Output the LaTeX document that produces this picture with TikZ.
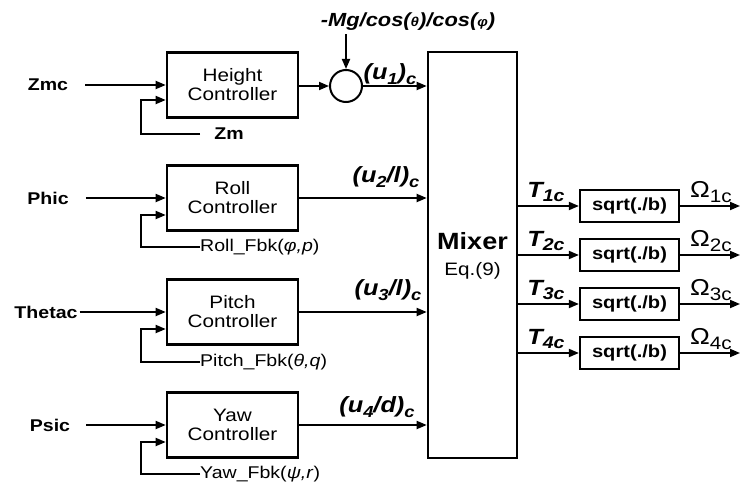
\documentclass[tikz,border=0pt]{standalone}
\usepackage{fontspec}
\setmainfont{Liberation Sans}[FakeStretch=1.15]
\usetikzlibrary{arrows.meta,calc}
\newcommand\lowsub[2][16]{\raisebox{-0.22em}{\fontsize{#1}{#1}\selectfont #2}}
\begin{document}
\begin{tikzpicture}[x=1pt,y=-1pt,
  ctrl/.style={draw,line width=2.6pt,minimum width=131pt,minimum height=65pt,align=center,font=\fontsize{18}{19}\selectfont,inner sep=0pt},
  sq/.style={draw,line width=2.2pt,minimum width=99pt,minimum height=32pt,inner sep=0pt,font=\fontsize{17.5}{19}\selectfont\bfseries},
  arr/.style={line width=1.8pt,-{Triangle[length=10pt,width=8pt]}},
  inp/.style={font=\fontsize{17}{19}\selectfont\bfseries,inner sep=0pt},
  fbl/.style={font=\fontsize{17}{19}\selectfont,anchor=west,inner sep=0pt},
  ulab/.style={font=\fontsize{22}{24}\selectfont\bfseries\itshape,inner sep=0pt},
  tlab/.style={font=\fontsize{22}{24}\selectfont\bfseries\itshape,inner sep=0pt},
  olab/.style={font=\fontsize{23}{24}\selectfont,inner sep=0pt},
]
\useasboundingbox[fill=white] (0,0) rectangle (741,487);
% controllers
\node[ctrl] (hc) at (232.5,85) {Height\\Controller};
\node[ctrl] (rc) at (232.5,198) {Roll\\Controller};
\node[ctrl] (pc) at (232.5,312) {Pitch\\Controller};
\node[ctrl] (yc) at (232.5,425) {Yaw\\Controller};
% mixer
\node[draw,line width=2.6pt,minimum width=89pt,minimum height=406pt,inner sep=0pt] (mix) at (472.5,255) {};
\node[font=\fontsize{23.5}{27}\selectfont\bfseries] (mixt) at (472.5,241) {Mixer};
\node[font=\fontsize{18}{20}\selectfont] (eq) at (472.5,271) {Eq.(9)};
% summation
\node[draw,circle,line width=2pt,minimum size=32pt,inner sep=0pt] (sum) at (346,86) {};
\node[font=\fontsize{19}{19}\selectfont\bfseries\itshape,inner sep=0pt] (mg) at (408,22) {-Mg/cos({\fontsize{13}{13}\selectfont θ})/cos({\fontsize{13}{13}\selectfont φ})};
\draw[arr] (mg.south -| sum) ++(0,-3pt) -- (sum.north);
% inputs
\node[inp] (zmc) at (48,85) {Zmc};
\node[inp] (phic) at (48,198) {Phic};
\node[inp] (thetac) at (46,312) {Thetac};
\node[inp] (psic) at (50,425) {Psic};
\draw[arr] ([xshift=17pt]zmc.east) -- (hc.west);
\draw[arr] ([xshift=17pt]phic.east) -- (rc.west);
\draw[arr] ([xshift=2pt]thetac.east) -- (pc.west);
\draw[arr] ([xshift=16pt]psic.east) -- (yc.west);
% feedbacks
\node[font=\fontsize{17}{19}\selectfont\bfseries,inner sep=0pt] (zm) at (229,134) {Zm};
\node[fbl] (rf) at (200,247) {Roll\_Fbk(\textit{φ,p})};
\node[fbl] (pf) at (200,362) {Pitch\_Fbk(\textit{θ,q})};
\node[fbl] (yf) at (200,474) {Yaw\_Fbk(\textit{ψ,r})};
\draw[arr] ([xshift=-14pt]zm.west) -- (141,134) |- ([yshift=-15pt]hc.west);
\draw[arr] (rf.west) -- (141,247) |- ([yshift=-17pt]rc.west);
\draw[arr] (pf.west) -- (141,362) |- ([yshift=-17pt]pc.west);
\draw[arr] (yf.west) -- (141,474) |- ([yshift=-17pt]yc.west);
% controller outputs
\draw[arr] (hc.east |- sum) -- (sum.west);
\draw[arr] (sum.east) -- (sum -| mix.west);
\draw[arr] (rc.east) -- (rc -| mix.west);
\draw[arr] (pc.east) -- (pc -| mix.west);
\draw[arr] (yc.east) -- (yc -| mix.west);
\node[ulab] (u1) at (390,74) {(\textit{u}\lowsub{1})\lowsub{c}};
\node[ulab] (u2) at (386,177) {(\textit{u}\lowsub{2}/l)\lowsub{c}};
\node[ulab] (u3) at (388,290) {(\textit{u}\lowsub{3}/l)\lowsub{c}};
\node[ulab] (u4) at (377,407) {(\textit{u}\lowsub{4}/d)\lowsub{c}};
% sqrt blocks
\foreach \i/\y in {1/206,2/255,3/304,4/353}{
  \node[sq] (s\i) at (629.5,\y) {sqrt(./b)};
  \draw[arr] (s\i -| mix.east) -- (s\i.west);
  \coordinate (o\i) at (740,\y);
  \draw[arr] (s\i.east) -- (o\i);
  \node[tlab] (t\i) at (546,\y-14) {T\lowsub[17]{\i c}};
  \node[olab] (w\i) at (711,\y-14) {Ω\lowsub[18]{\i c}};
}
\end{tikzpicture}
\end{document}
